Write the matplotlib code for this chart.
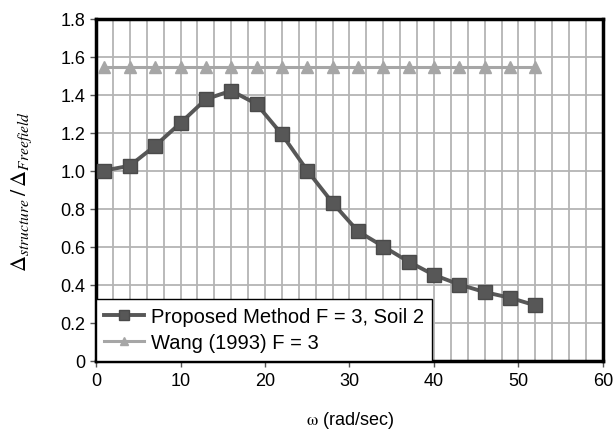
import matplotlib
matplotlib.use("Agg")
import matplotlib.pyplot as plt
from matplotlib.ticker import MultipleLocator, FuncFormatter

plt.rcParams['font.family'] = ['Liberation Sans', 'DejaVu Sans']
plt.rcParams['mathtext.fontset'] = 'stix'

# Frequency (rad/sec) and displacement ratio
omega = [1, 4, 7, 10, 13, 16, 19, 22, 25, 28, 31, 34, 37, 40, 43, 46, 49, 52]
proposed = [1.00, 1.025, 1.13, 1.25, 1.375, 1.42, 1.35, 1.19, 1.00, 0.83,
            0.68, 0.60, 0.52, 0.45, 0.40, 0.36, 0.33, 0.29]
wang = [1.543] * len(omega)

label_proposed = "Proposed Method F = 3, Soil 2"
label_wang = "Wang (1993) F = 3"

fig = plt.figure(figsize=(6.13, 4.31), dpi=100)
ax = fig.add_axes([96 / 613, (431 - 361.5) / 431, (603 - 96) / 613, (361.5 - 19.5) / 431])

ax.set_xlim(0, 60)
ax.set_ylim(0, 1.8)
ax.xaxis.set_major_locator(MultipleLocator(10))
ax.xaxis.set_minor_locator(MultipleLocator(2))
ax.yaxis.set_major_locator(MultipleLocator(0.2))
ax.yaxis.set_major_formatter(FuncFormatter(lambda v, p: "0" if abs(v) < 1e-9 else f"{v:.1f}"))

ax.grid(which='both', axis='x', color='#b4b4b4', linewidth=1.3, zorder=0)
ax.grid(which='major', axis='y', color='#b4b4b4', linewidth=1.3, zorder=0)
ax.set_axisbelow(True)

ax.plot(omega, wang, color='#a6a6a6', linewidth=2.2, marker='^', markersize=8,
        markeredgecolor='#a6a6a6', markerfacecolor='#a6a6a6', label=label_wang, zorder=3)
ax.plot(omega, proposed, color='#575757', linewidth=2.8, marker='s', markersize=10.5,
        markeredgecolor='#4a4a4a', markerfacecolor='#575757', label=label_proposed, zorder=4)

for side in ['top', 'left', 'right', 'bottom']:
    ax.spines[side].set_linewidth(2.5)
    ax.spines[side].set_color('black')

ax.tick_params(axis='both', which='major', direction='out', length=4, width=1,
               labelsize=13, color='#555555')
ax.tick_params(axis='both', which='minor', length=0)
ax.tick_params(axis='x', pad=4)

handles, labels = ax.get_legend_handles_labels()
leg = ax.legend(handles[::-1], labels[::-1], loc='lower left', bbox_to_anchor=(0.0, 0.0),
                frameon=True, fancybox=False, fontsize=14.5, borderpad=0.4,
                handlelength=2.0, labelspacing=0.35, handletextpad=0.35, borderaxespad=0.0,
                markerscale=0.7)
leg.get_frame().set_edgecolor('black')
leg.get_frame().set_linewidth(1.0)
leg.get_frame().set_alpha(1.0)
leg.set_zorder(5)

fig.text(350 / 613, 1 - 421 / 431, r"$\mathrm{\omega}$ (rad/sec)", fontsize=13,
         ha='center', va='center')
fig.text(22 / 613, 1 - 191 / 431,
         r"$\mathit{\Delta}_{\mathit{structure}}\,/\,\mathit{\Delta}_{\mathit{Freefield}}$",
         fontsize=16, rotation=90, ha='center', va='center')

fig.savefig("out.png", dpi=100)
